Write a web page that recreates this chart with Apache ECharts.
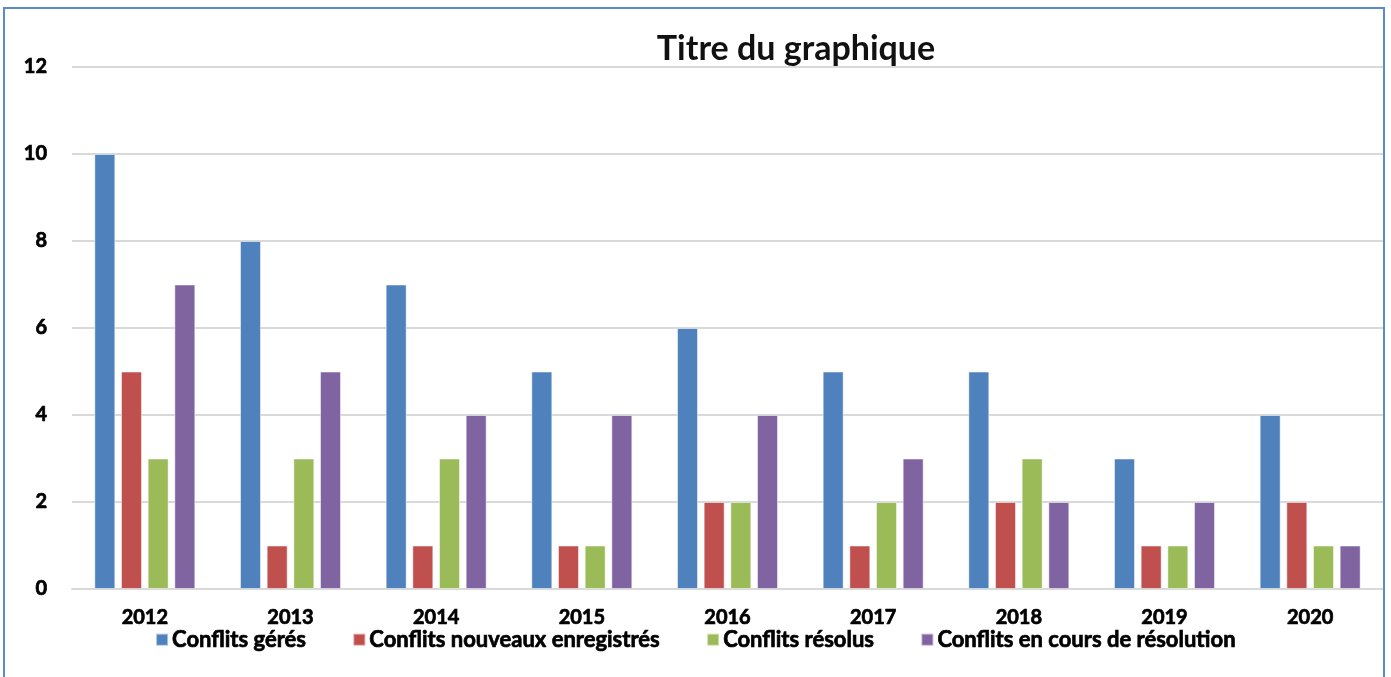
<!DOCTYPE html>
<html>
<head>
<meta charset="utf-8">
<script src="https://cdn.jsdelivr.net/npm/echarts@6/dist/echarts.min.js"></script>
<style>
  html, body { margin: 0; padding: 0; background: #fff; }
  #chart { position: absolute; left: 0; top: 0; width: 1391px; height: 677px; }
  #frame {
    position: absolute; left: 3px; top: 7px; width: 1378px; height: 700px;
    border: 2px solid #5b8bc9; pointer-events: none;
  }
</style>
</head>
<body>
<div id="chart"></div>
<div id="frame"></div>
<script>
const years = ['2012', '2013', '2014', '2015', '2016', '2017', '2018', '2019', '2020'];
const geres = [10, 8, 7, 5, 6, 5, 5, 3, 4];
const nouveaux = [5, 1, 1, 1, 2, 1, 2, 1, 2];
const resolus = [3, 3, 3, 1, 2, 2, 3, 1, 1];
const enCours = [7, 5, 4, 4, 4, 3, 2, 2, 1];

const seriesNames = [
  'Conflits gérés',
  'Conflits nouveaux enregistrés',
  'Conflits résolus',
  'Conflits en cours de résolution'
];
const seriesColors = ['#4f81bd', '#c0504d', '#9bbb59', '#8064a2'];
const seriesData = [geres, nouveaux, resolus, enCours];

const font = 'Lato, "Open Sans", sans-serif';
// heavy black text, like the original
const heavy = { fontFamily: font, fontWeight: 'bold', color: '#000', textBorderColor: '#000', textBorderWidth: 0.7 };

const chart = echarts.init(document.getElementById('chart'));
chart.setOption({
  animation: false,
  textStyle: { fontFamily: font },
  title: {
    text: 'Titre du graphique',
    left: 791,
    textAlign: 'center',
    top: 27,
    textStyle: { fontFamily: font, fontSize: 34, fontWeight: 'bold', color: '#111' }
  },
  legend: {
    bottom: 21,
    left: 'center',
    itemWidth: 12,
    itemHeight: 12,
    itemGap: 46,
    icon: 'rect',
    textStyle: { ...heavy, fontSize: 22, padding: [0, 0, 0, -1] },
    data: seriesNames
  },
  grid: { left: 72, right: 8, top: 67, bottom: 88 },
  xAxis: {
    type: 'category',
    data: years,
    axisLine: { lineStyle: { color: '#d9d9d9', width: 2 } },
    axisTick: { show: false },
    axisLabel: { ...heavy, fontSize: 20, margin: 19 }
  },
  yAxis: {
    type: 'value',
    min: 0,
    max: 12,
    interval: 2,
    axisLine: { show: false },
    axisTick: { show: false },
    axisLabel: { ...heavy, fontSize: 20, margin: 25 },
    splitLine: { lineStyle: { color: '#d9d9d9', width: 2 } }
  },
  series: seriesNames.map((name, i) => ({
    name: name,
    type: 'bar',
    data: seriesData[i],
    barWidth: 21,
    barGap: '27%',
    itemStyle: { color: seriesColors[i], borderColor: 'rgba(255,255,255,0.5)', borderWidth: 1 }
  }))
});
</script>
</body>
</html>
